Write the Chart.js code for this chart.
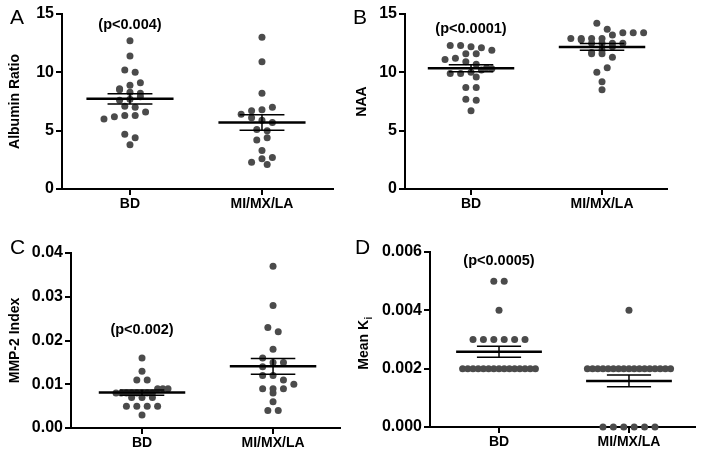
<!DOCTYPE html>
<html>
<head>
<meta charset="utf-8">
<script src="https://cdn.jsdelivr.net/npm/chart.js@4/dist/chart.umd.min.js"></script>
<style>
  body { margin: 0; background: #fff; width: 704px; height: 458px; position: relative; overflow: hidden; }
  canvas { position: absolute; }
</style>
</head>
<body>
<canvas id="pA" width="352" height="229" style="left:0;top:0"></canvas>
<canvas id="pB" width="352" height="229" style="left:352px;top:0"></canvas>
<canvas id="pC" width="352" height="229" style="left:0;top:229px"></canvas>
<canvas id="pD" width="352" height="229" style="left:352px;top:229px"></canvas>
<script>
const groups = ['BD', 'MI/MX/LA'];
const letters = ['A', 'B', 'C', 'D'];
const yTitles = ['Albumin Ratio', 'NAA', 'MMP-2 Index', 'Mean K'];
const pLabels = ['(p<0.004)', '(p<0.0001)', '(p<0.002)', '(p<0.0005)'];

// individual values
const albuminBD = [12.7, 11.4, 10.2, 10.0, 9.1, 8.9, 8.6, 8.5, 8.3, 8.2, 7.9, 7.7, 7.6, 7.1, 7.0, 6.6, 6.3, 6.3, 6.2, 6.0, 4.7, 4.4, 3.8];
const albuminMI = [13.0, 10.9, 8.2, 7.0, 6.8, 6.7, 6.4, 6.1, 5.9, 5.7, 5.1, 5.0, 4.4, 4.2, 3.3, 2.7, 2.6, 2.3, 2.1];
const naaBD = [12.3, 12.3, 12.2, 12.1, 11.9, 11.6, 11.6, 11.2, 11.1, 10.9, 10.7, 10.4, 10.3, 10.2, 10.0, 9.9, 9.9, 9.6, 8.7, 8.7, 7.7, 7.6, 6.7];
const naaMI = [14.2, 13.7, 13.4, 13.4, 13.4, 13.2, 12.9, 12.9, 12.9, 12.9, 12.8, 12.5, 12.5, 12.5, 12.5, 12.2, 11.9, 11.7, 11.6, 11.6, 11.3, 10.4, 10.0, 9.2, 8.5];
const mmpBD = [0.016, 0.013, 0.011, 0.011, 0.009, 0.009, 0.009, 0.008, 0.008, 0.008, 0.008, 0.008, 0.008, 0.008, 0.008, 0.007, 0.007, 0.007, 0.005, 0.005, 0.005, 0.005, 0.003];
const mmpMI = [0.037, 0.028, 0.023, 0.022, 0.018, 0.016, 0.015, 0.015, 0.014, 0.012, 0.012, 0.011, 0.010, 0.009, 0.009, 0.009, 0.008, 0.006, 0.004, 0.004];
const kiBD = [0.005, 0.005, 0.004, 0.003, 0.003, 0.003, 0.003, 0.003, 0.003,
  0.002, 0.002, 0.002, 0.002, 0.002, 0.002, 0.002, 0.002, 0.002, 0.002, 0.002, 0.002, 0.002, 0.002, 0.002];
const kiMI = [0.004, 0.002, 0.002, 0.002, 0.002, 0.002, 0.002, 0.002, 0.002, 0.002, 0.002, 0.002, 0.002, 0.002,
  0.002, 0.002, 0.002, 0.002, 0, 0, 0, 0, 0, 0];

// mean and SEM bars as drawn
const meanBD = [7.73, 10.35, 0.0081, 0.00258];
const semBD = [0.44, 0.30, 0.0006, 0.00019];
const meanMI = [5.70, 12.18, 0.0141, 0.00158];
const semMI = [0.67, 0.29, 0.0018, 0.0002];

const yMax = [15, 15, 0.04, 0.006];
const yStep = [5, 5, 0.01, 0.002];
const yDecimals = [0, 0, 2, 3];
const pLabelY = [14.1, 13.7, 0.0224, 0.0057];

const panels = [
  { id: 'pA', bd: albuminBD, mi: albuminMI, left: 62, top: 14, right: 19, bottom: 40, xMin: -0.515, xMax: 1.538, titlePad: 6.6, letterX: 10, letterY: 24 },
  { id: 'pB', bd: naaBD, mi: naaMI, left: 53, top: 14, right: 37, bottom: 40, xMin: -0.504, xMax: 1.496, titlePad: 1.6, letterX: 1, letterY: 24 },
  { id: 'pC', bd: mmpBD, mi: mmpMI, left: 71, top: 24, right: 12, bottom: 30, xMin: -0.542, xMax: 1.511, titlePad: 6.6, letterX: 10, letterY: 25 },
  { id: 'pD', bd: kiBD, mi: kiMI, left: 78, top: 23, right: 9, bottom: 31, xMin: -0.531, xMax: 1.508, titlePad: 0, letterX: 3, letterY: 25, subscript: 'i' }
];

const FONT = "'Liberation Sans', Arial, Helvetica, sans-serif";
const DOT = '#4b4b4b';

function barLines(c, m, s) {
  return {
    mean: [{ x: c - 0.33, y: m }, { x: c + 0.33, y: m }],
    sem: [{ x: c - 0.17, y: m + s }, { x: c + 0.17, y: m + s }, { x: c, y: m + s }, { x: c, y: m - s },
      { x: c - 0.17, y: m - s }, { x: c + 0.17, y: m - s }]
  };
}

// spread equal / close values sideways in rows, like a dot plot
function swarm(chart, values, center) {
  const xs = chart.scales.x, ys = chart.scales.y;
  const unit = xs.getPixelForValue(1) - xs.getPixelForValue(0);
  const sorted = values.slice().sort((a, b) => b - a);
  const rows = [];
  for (const v of sorted) {
    const py = ys.getPixelForValue(v);
    const row = rows[rows.length - 1];
    if (row && py - row.top < 6.5) row.items.push({ v, py });
    else rows.push({ top: py, items: [{ v, py }] });
  }
  const placed = [], out = [];
  rows.forEach((row, r) => {
    const n = row.items.length;
    let step = 10.4;
    while ((n - 1) * step > 100) step /= 2;
    const items = r % 2 ? row.items.slice().reverse() : row.items;
    const offs = items.map((it, i) => (i - (n - 1) / 2) * step);
    const clash = s => items.some((it, i) => placed.some(p => Math.hypot(p.px - offs[i] - s, p.py - it.py) < 6.8));
    let shift = 0;
    if (clash(0)) shift = [step / 2, -step / 2, step, -step].find(s => !clash(s)) ?? 0;
    items.forEach((it, i) => {
      placed.push({ px: offs[i] + shift, py: it.py });
      out.push({ x: center + (offs[i] + shift) / unit, y: it.v });
    });
  });
  return out;
}

panels.forEach((p, k) => {
  const b = barLines(0, meanBD[k], semBD[k]);
  const m = barLines(1, meanMI[k], semMI[k]);
  const lineSet = (data, w) => ({ data, showLine: true, borderColor: '#000', borderWidth: w, pointRadius: 0, order: 0, clip: false });
  const dotSet = () => ({ data: [], backgroundColor: DOT, borderColor: DOT, borderWidth: 0, pointRadius: 3.5, order: 1, clip: false });

  const decor = {
    id: 'decor',
    afterDraw(chart) {
      const ctx = chart.ctx;
      ctx.save();
      ctx.fillStyle = '#000';
      ctx.font = '21px ' + FONT;
      ctx.textAlign = 'left';
      ctx.textBaseline = 'alphabetic';
      ctx.fillText(letters[k], p.letterX, p.letterY);
      ctx.font = 'bold 14.5px ' + FONT;
      ctx.textAlign = 'center';
      ctx.textBaseline = 'middle';
      ctx.fillText(pLabels[k], chart.scales.x.getPixelForValue(0), chart.scales.y.getPixelForValue(pLabelY[k]));
      if (p.subscript) {
        const area = chart.chartArea;
        ctx.translate(12, (area.top + area.bottom) / 2 + 4);
        ctx.rotate(-Math.PI / 2);
        ctx.font = 'bold 14px ' + FONT;
        const w1 = ctx.measureText(yTitles[k]).width;
        ctx.font = 'bold 10px ' + FONT;
        const w2 = ctx.measureText(p.subscript).width;
        ctx.textAlign = 'left';
        ctx.font = 'bold 14px ' + FONT;
        ctx.fillText(yTitles[k], -(w1 + w2) / 2, 0);
        ctx.font = 'bold 10px ' + FONT;
        ctx.fillText(p.subscript, -(w1 + w2) / 2 + w1 + 0.5, 5);
      }
      ctx.restore();
    }
  };

  const chart = new Chart(document.getElementById(p.id), {
    type: 'scatter',
    data: {
      datasets: [
        lineSet(b.mean, 2.5), lineSet(b.sem, 1.5),
        lineSet(m.mean, 2.5), lineSet(m.sem, 1.5),
        dotSet(), dotSet()
      ]
    },
    options: {
      responsive: false,
      animation: false,
      devicePixelRatio: 1,
      layout: { padding: { left: 0, top: p.top, right: p.right, bottom: 0 } },
      plugins: { legend: { display: false }, tooltip: { enabled: false } },
      scales: {
        x: {
          type: 'linear',
          min: p.xMin,
          max: p.xMax,
          afterBuildTicks: s => { s.ticks = [{ value: 0 }, { value: 1 }]; },
          afterFit: s => { s.height = p.bottom; },
          grid: { drawOnChartArea: false, color: '#000', lineWidth: 2, tickLength: 6 },
          border: { color: '#000', width: 2 },
          ticks: {
            autoSkip: false, maxRotation: 0, padding: 1, color: '#000',
            font: { family: FONT, size: 14, weight: 'bold' },
            callback: v => groups[v]
          }
        },
        y: {
          min: 0,
          max: yMax[k],
          afterFit: s => { s.width = p.left; },
          grid: { drawOnChartArea: false, color: '#000', lineWidth: 2, tickLength: 6 },
          border: { color: '#000', width: 2 },
          ticks: {
            stepSize: yStep[k], padding: 2, color: '#000',
            font: { family: FONT, size: 16, weight: 'bold' },
            callback: v => Number(v).toFixed(yDecimals[k])
          },
          title: {
            display: !p.subscript,
            text: yTitles[k],
            color: '#000',
            font: { family: FONT, size: 14, weight: 'bold' },
            padding: { top: p.titlePad, bottom: 0 }
          }
        }
      }
    },
    plugins: [decor]
  });

  chart.data.datasets[4].data = swarm(chart, p.bd, 0);
  chart.data.datasets[5].data = swarm(chart, p.mi, 1);
  chart.update('none');
});
</script>
</body>
</html>
